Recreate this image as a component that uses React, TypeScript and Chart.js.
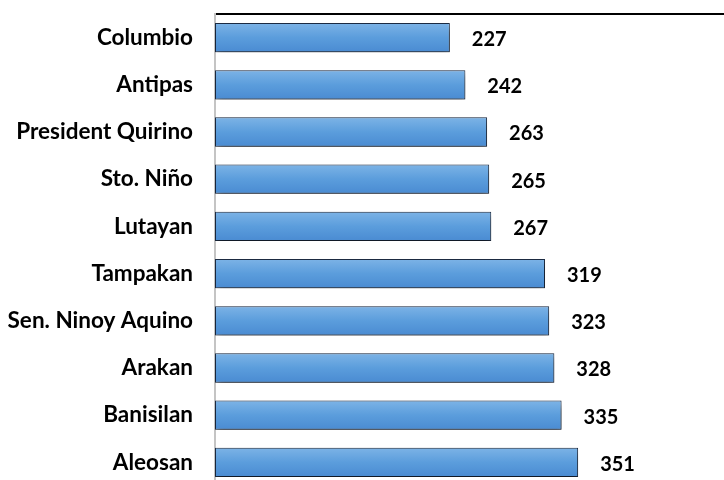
import React, { useEffect, useRef } from "react";
import { Chart, registerables } from "chart.js";

Chart.register(...registerables);

const categories = [
  "Columbio",
  "Antipas",
  "President Quirino",
  "Sto. Niño",
  "Lutayan",
  "Tampakan",
  "Sen. Ninoy Aquino",
  "Arakan",
  "Banisilan",
  "Aleosan",
];
const values = [227, 242, 263, 265, 267, 319, 323, 328, 335, 351];

const FONT_FAMILY = "Lato, 'Open Sans', sans-serif";
const LABEL_SIZE = 22.5;
const VALUE_SIZE = 20;

const zeroPad = (scale: any) => {
  scale.paddingTop = 0;
  scale.paddingBottom = 0;
  scale.paddingLeft = 0;
  scale.paddingRight = 0;
};

export default function App() {
  const ref = useRef<HTMLCanvasElement | null>(null);

  useEffect(() => {
    const canvas = ref.current;
    if (!canvas) return;

    const decor = {
      id: "decor",
      beforeDatasetsDraw(chart: any) {
        const ctx = chart.ctx;
        ctx.save();
        ctx.shadowColor = "rgba(0,0,0,0.55)";
        ctx.shadowBlur = 7;
        ctx.shadowOffsetX = 1;
        ctx.shadowOffsetY = 4;
      },
      afterDatasetsDraw(chart: any) {
        const ctx = chart.ctx;
        ctx.restore();
        const meta = chart.getDatasetMeta(0);
        ctx.save();
        ctx.fillStyle = "#000";
        ctx.font = `bold ${VALUE_SIZE}px ${FONT_FAMILY}`;
        ctx.textAlign = "left";
        ctx.textBaseline = "middle";
        meta.data.forEach((bar: any, i: number) => {
          ctx.fillText(String(values[i]), bar.x + 22, bar.y + 2);
        });
        ctx.restore();
      },
    };

    const chart = new Chart(canvas, {
      type: "bar",
      data: {
        labels: categories,
        datasets: [
          {
            data: values,
            backgroundColor: (c: any) => {
              const chartObj = c.chart;
              const ys = chartObj.scales?.y;
              if (!chartObj.chartArea || !ys || c.dataIndex === undefined) return "#5b9bd5";
              const center = ys.getPixelForValue(c.dataIndex);
              if (!Number.isFinite(center)) return "#5b9bd5";
              const half = 14.5;
              const g = chartObj.ctx.createLinearGradient(0, center - half, 0, center + half);
              g.addColorStop(0, "#7cb3e6");
              g.addColorStop(0.5, "#5b9ddc");
              g.addColorStop(1, "#4a8bd2");
              return g;
            },
            borderColor: "#1c2c44",
            borderWidth: 1,
            borderSkipped: false,
            categoryPercentage: 1,
            barPercentage: 0.62,
          },
        ],
      },
      options: {
        indexAxis: "y",
        responsive: false,
        animation: false,
        devicePixelRatio: 1,
        layout: { padding: { top: 14, right: 0, bottom: 0, left: 0 } },
        plugins: {
          legend: { display: false },
          tooltip: { enabled: false },
        },
        scales: {
          x: {
            position: "top",
            min: 0,
            max: 492,
            grid: { display: false },
            ticks: { display: false },
            border: { display: true, color: "#000", width: 2 },
            afterFit: (scale: any) => {
              scale.height = 0;
              zeroPad(scale);
            },
          },
          y: {
            grid: { display: false, drawTicks: false },
            border: { display: true, color: "#c4c4c4", width: 2 },
            ticks: {
              color: "#000",
              padding: 22,
              font: { family: FONT_FAMILY, size: LABEL_SIZE, weight: "bold" },
            },
            afterFit: (scale: any) => {
              scale.width = 215;
              zeroPad(scale);
            },
          },
        },
      },
      plugins: [decor],
    } as any);

    return () => chart.destroy();
  }, []);

  return (
    <div
      style={{
        position: "fixed",
        left: 0,
        top: 0,
        width: 724,
        height: 480,
        overflow: "hidden",
        background: "#fff",
      }}
    >
      <canvas ref={ref} width={724} height={486} style={{ display: "block", width: 724, height: 486 }} />
    </div>
  );
}
